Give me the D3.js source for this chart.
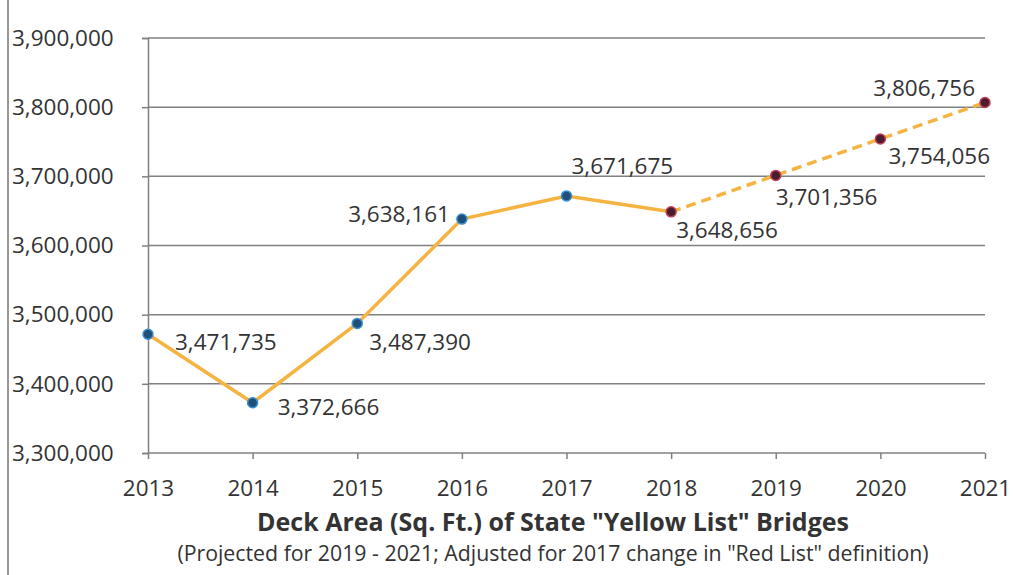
<!doctype html>
<html>
<head>
<meta charset="UTF-8">
<title>Yellow List Bridges</title>
<script src="https://d3js.org/d3.v7.min.js"></script>
<style>
  body { margin: 0; background: #fff; }
  text { font-family: "Open Sans", "Noto Sans", sans-serif; fill: #333; }
</style>
</head>
<body>
<svg id="chart" width="1013" height="575"></svg>
<script>
// data
var years = ["2013","2014","2015","2016","2017","2018","2019","2020","2021"];
var area = [3471735, 3372666, 3487390, 3638161, 3671675, 3648656, 3701356, 3754056, 3806756];
var projected = [false, false, false, false, false, false, true, true, true];
var yTicks = [3300000, 3400000, 3500000, 3600000, 3700000, 3800000, 3900000];
var title = 'Deck Area (Sq. Ft.) of State "Yellow List" Bridges';
var subtitle = '(Projected for 2019 - 2021; Adjusted for 2017 change in "Red List" definition)';

// label placement (dx, dy, anchor) per point
var labelPlace = [
  [27, 16, "start"], [25, 12, "start"], [12, 27, "start"], [-12, 3, "end"],
  [5, -22, "start"], [5, 26, "start"], [0, 30, "start"], [8, 25, "start"], [-10, -6, "end"]
];

var svg = d3.select("#chart");
var x = d3.scalePoint().domain(years).range([148, 985]);
var y = d3.scaleLinear().domain([3300000, 3900000]).range([453, 38]);
var fmt = d3.format(",");
var fs = 22.5;

// scan edge on left
svg.append("line").attr("x1", 8).attr("x2", 8).attr("y1", 0).attr("y2", 575)
  .attr("stroke", "#555").attr("stroke-width", 2).attr("opacity", 0.6);

// grid
svg.append("g").selectAll("line").data(yTicks).enter().append("line")
  .attr("x1", 148).attr("x2", 985)
  .attr("y1", function(d){ return y(d); }).attr("y2", function(d){ return y(d); })
  .attr("stroke", "#808080").attr("stroke-width", 1.5);

// y axis
var yAxis = d3.axisLeft(y).tickValues(yTicks).tickFormat(fmt).tickSize(6).tickPadding(8);
var gy = svg.append("g").attr("transform", "translate(148,0)").call(yAxis);
gy.select(".domain").attr("stroke", "#808080").attr("stroke-width", 1.5);
gy.selectAll(".tick line").attr("stroke", "#808080").attr("stroke-width", 1.5);
gy.selectAll("text").attr("font-size", fs).attr("fill", "#333")
  .attr("x", -136).attr("text-anchor", "start");

// x axis
var xAxis = d3.axisBottom(x).tickSize(6).tickPadding(21);
var gx = svg.append("g").attr("transform", "translate(0,453)").call(xAxis);
gx.select(".domain").remove();
gx.selectAll(".tick line").attr("stroke", "#808080").attr("stroke-width", 1.5);
gx.selectAll("text").attr("font-size", fs).attr("fill", "#333");

// lines
var pts = years.map(function(yr, i){ return {yr: yr, v: area[i], p: projected[i]}; });
var line = d3.line().x(function(d){ return x(d.yr); }).y(function(d){ return y(d.v); });
var actual = pts.filter(function(d){ return !d.p; });
var proj = pts.filter(function(d, i){ return d.p || i === 5; });
svg.append("path").datum(actual).attr("d", line)
  .attr("fill", "none").attr("stroke", "#f5b441").attr("stroke-width", 3.5);
svg.append("path").datum(proj).attr("d", line)
  .attr("fill", "none").attr("stroke", "#f5b441").attr("stroke-width", 3.5)
  .attr("stroke-dasharray", "10,6");

// markers
svg.append("g").selectAll("circle").data(pts).enter().append("circle")
  .attr("cx", function(d){ return x(d.yr); })
  .attr("cy", function(d){ return y(d.v); })
  .attr("r", 5)
  .attr("fill", function(d, i){ return i < 5 ? "#1f4e79" : "#4a1c2e"; })
  .attr("stroke", function(d, i){ return i < 5 ? "#3a8fd0" : "#c0405a"; })
  .attr("stroke-width", 1.5);

// data labels
svg.append("g").selectAll("text").data(pts).enter().append("text")
  .attr("x", function(d, i){ return x(d.yr) + labelPlace[i][0]; })
  .attr("y", function(d, i){ return y(d.v) + labelPlace[i][1]; })
  .attr("text-anchor", function(d, i){ return labelPlace[i][2]; })
  .attr("font-size", fs)
  .text(function(d){ return fmt(d.v); });

// titles
svg.append("text").attr("x", 553).attr("y", 531).attr("text-anchor", "middle")
  .attr("font-size", 25).attr("font-weight", "bold").text(title);
svg.append("text").attr("x", 553).attr("y", 561).attr("text-anchor", "middle")
  .attr("font-size", 21.3).text(subtitle);
</script>
</body>
</html>
